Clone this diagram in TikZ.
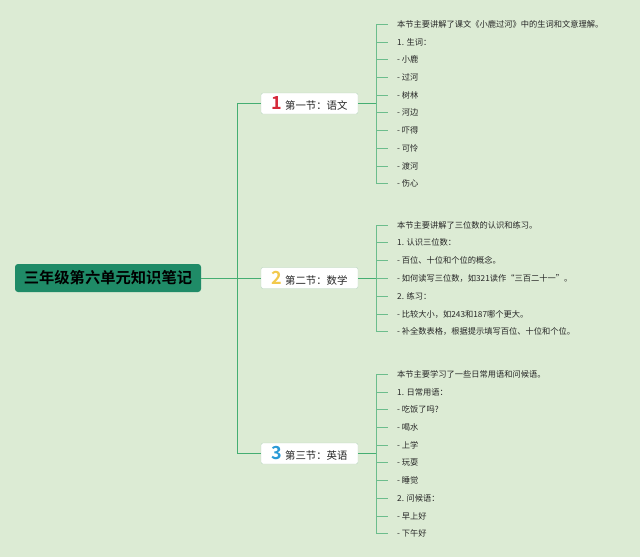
\documentclass[tikz,border=0pt]{standalone}
\usepackage{fontspec}
\setmainfont{Noto Sans CJK SC}[BoldFont={Noto Sans CJK SC Bold}]
\usetikzlibrary{positioning}
\usepackage{xcolor}
\definecolor{mmbg}{HTML}{DCEBD4}
\definecolor{mmroot}{HTML}{1F8B67}
\definecolor{mmline}{HTML}{45AE72}
\definecolor{mmtwig}{HTML}{6CBD8C}
\definecolor{mmedge}{HTML}{B9D5BF}
\definecolor{mmtext}{HTML}{262626}
\definecolor{numred}{HTML}{D62839}
\definecolor{numyellow}{HTML}{F2C94C}
\definecolor{numblue}{HTML}{2A9AD6}
\newcommand\secnum[2]{{\fontsize{18}{18}\selectfont\bfseries\color{#1}#2}\hspace{3pt}}

\begin{document}
\begin{tikzpicture}[x=1pt, y=-1pt,
          root/.style={fill=mmroot, rounded corners=3pt, text=black, font=\fontsize{15.3}{17}\selectfont\bfseries, minimum width=186pt, minimum height=28pt, inner sep=0pt},
          section/.style={draw=mmedge, fill=white, rounded corners=2pt, text=mmtext, font=\fontsize{10.4}{12}\selectfont, minimum width=97pt, minimum height=21pt, inner sep=0pt},
          leaf/.style={anchor=west, inner sep=0pt, text=mmtext, font=\fontsize{8.25}{9}\selectfont},
          trunk/.style={draw=mmline, line width=1pt},
          twig/.style={draw=mmtwig, line width=0.8pt, shorten >=9pt}]
        \fill[mmbg] (0,0) rectangle (640,557);
        \useasboundingbox (0,0) rectangle (640,557);
        % root and sections
        \node[root] (root) at (108,278) {三年级第六单元知识笔记};
        \node[section] (s1) at (309.5,103.5) {\secnum{numred}{1}第一节：语文};
        \node[section] (s2) at (309.5,278) {\secnum{numyellow}{2}第二节：数学};
        \node[section] (s3) at (309.5,453.5) {\secnum{numblue}{3}第三节：英语};
        \coordinate (hub) at (237,278);
        \draw[trunk] (root) -- (hub);
        \draw[trunk] (hub) |- (s1);
        \draw[trunk] (hub) -- (s2);
        \draw[trunk] (hub) |- (s3);
        \coordinate[right=18pt of s1] (k1);
        \coordinate[right=18pt of s2] (k2);
        \coordinate[right=18pt of s3] (k3);
        \draw[trunk] (s1) -- (k1);
        \draw[trunk] (s2) -- (k2);
        \draw[trunk] (s3) -- (k3);
        % leaves
        \foreach \txt [count=\i] in {本节主要讲解了课文《小鹿过河》中的生词和文意理解。, 1. 生词：, - 小鹿, - 过河, - 树林, - 河边, - 吓得, - 可怜, - 渡河, - 伤心} {
          \node[leaf] (yw\i) at (397,{24.3+17.7*(\i-1)}) {\txt};
          \draw[twig] (k1) |- (yw\i.west);
        }
        \foreach \txt [count=\i] in {本节主要讲解了三位数的认识和练习。, 1. 认识三位数：, - 百位、十位和个位的概念。, - 如何读写三位数，如321读作“三百二十一”。, 2. 练习：, - 比较大小，如243和187哪个更大。, - 补全数表格，根据提示填写百位、十位和个位。} {
          \node[leaf] (sx\i) at (397,{225+17.8*(\i-1)}) {\txt};
          \draw[twig] (k2) |- (sx\i.west);
        }
        \foreach \txt [count=\i] in {本节主要学习了一些日常用语和问候语。, 1. 日常用语：, - 吃饭了吗?, - 喝水, - 上学, - 玩耍, - 睡觉, 2. 问候语：, - 早上好, - 下午好} {
          \node[leaf] (yy\i) at (397,{374.3+17.7*(\i-1)}) {\txt};
          \draw[twig] (k3) |- (yy\i.west);
        }
      \end{tikzpicture}
\end{document}
